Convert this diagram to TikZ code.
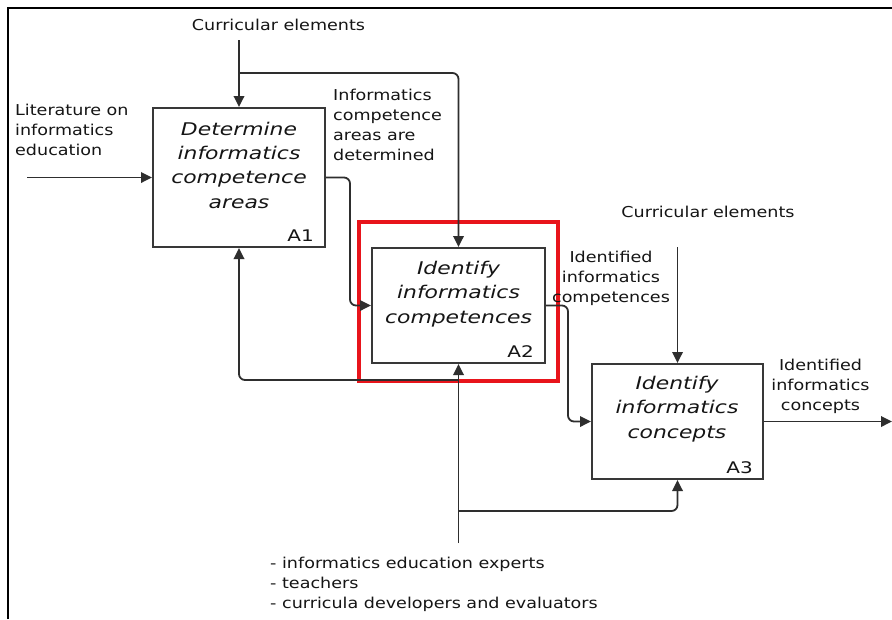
\documentclass[tikz,border=0pt]{standalone}
\usepackage{fontspec}
\setmainfont{DejaVu Sans}
\newfontfamily\lblfont[FakeStretch=1.17]{DejaVu Sans}
\newfontfamily\boxfont[FakeStretch=1.25]{DejaVu Sans}
\newfontfamily\numfont[FakeStretch=1.25]{DejaVu Sans}
\usetikzlibrary{arrows.meta,calc}
\definecolor{linec}{HTML}{2E2E2E}
\definecolor{boxc}{HTML}{383838}
\definecolor{hl}{HTML}{E8141B}
\definecolor{txt}{HTML}{151515}
\tikzset{
  act/.style={draw=boxc, line width=2pt, rectangle, inner sep=0pt},
  title/.style={align=center, inner sep=0pt, text=txt, font=\boxfont\itshape\fontsize{17.5}{24.3}\selectfont},
  num/.style={inner sep=0pt, text=txt, anchor=base east, font=\numfont\fontsize{16}{18}\selectfont},
  lbl/.style={inner sep=0pt, text=txt, font=\lblfont\fontsize{15}{20}\selectfont},
  conn/.style={draw=linec, line width=1.8pt, rounded corners=6pt, -{Triangle[length=11pt,width=10.5pt]}},
}
\begin{document}
\begin{tikzpicture}[x=1pt,y=-1pt]
\useasboundingbox[fill=white] (0,0) rectangle (892,619);
\draw[line width=2pt, black] (8,619) -- (8,8) -- (892,8);

% highlight
\node[draw=hl, line width=3.2pt, minimum width=199pt, minimum height=159pt, inner sep=0pt] (hlbox) at (458.5,301.5) {};

% activity boxes
\node[act, minimum width=172pt, minimum height=139pt] (A1) at (239,177.5) {};
\node[act, minimum width=173pt, minimum height=115pt] (A2) at (458.5,305.5) {};
\node[act, minimum width=171pt, minimum height=115pt] (A3) at (677.5,421.5) {};

\node[title, anchor=base] (t1) at (239,208) {Determine\\informatics\\competence\\areas};
\node[title, anchor=base] (t2) at (458.5,323) {Identify\\informatics\\competences};
\node[title, anchor=base] (t3) at (677,438) {Identify\\informatics\\concepts};

\node[num] (n1) at ($(A1.south east)+(-12,-6.5)$) {A1};
\node[num] (n2) at ($(A2.south east)+(-12,-6.5)$) {A2};
\node[num] (n3) at ($(A3.south east)+(-11,-6.5)$) {A3};

% labels
\node[lbl, anchor=base] (c1) at (278.5,30) {Curricular elements};
\node[lbl, anchor=base] (c2) at (708,217) {Curricular elements};
\node[lbl, anchor=base west, align=left] (lit) at (15,155) {Literature on\\informatics\\education};
\node[lbl, anchor=base west, align=left] (o1) at (333,160) {Informatics\\competence\\areas are\\determined};
\node[lbl, anchor=base, align=center] (o2) at (611,302) {Identified\\informatics\\competences};
\node[lbl, anchor=base, align=center] (o3) at (820.5,410) {Identified\\informatics\\concepts};
\node[lbl, anchor=base west, align=left] (mt) at (270,608) {- informatics education experts\\- teachers\\- curricula developers and evaluators};

% free ends
\coordinate (in1) at (27,177.5);
\coordinate (cc1) at (239,40);
\coordinate (cb1) at (239,73);
\coordinate (cc2) at (677.5,247);
\coordinate (out3) at (892,421.5);
\coordinate (mech) at (458.5,543);
\coordinate (mb1) at (458.5,511);
\coordinate (mb2) at (458.5,380);

% connectors
\draw[conn] (in1) -- (A1.west);
\draw[conn] (cc1) -- (A1.north);
\draw[conn] (cb1) -| (A2.north);
\draw[conn] (A1.east) -- ++(24,0) |- (A2.west);
\draw[conn] (A2.east) -- ++(22,0) |- (A3.west);
\draw[conn] (cc2) -- (A3.north);
\draw[conn] (A3.east) -- (out3);
\draw[conn] (mech) -- (A2.south);
\draw[conn] (mb1) -| (A3.south);
\draw[conn] (mb2) -| (A1.south);
\end{tikzpicture}
\end{document}
